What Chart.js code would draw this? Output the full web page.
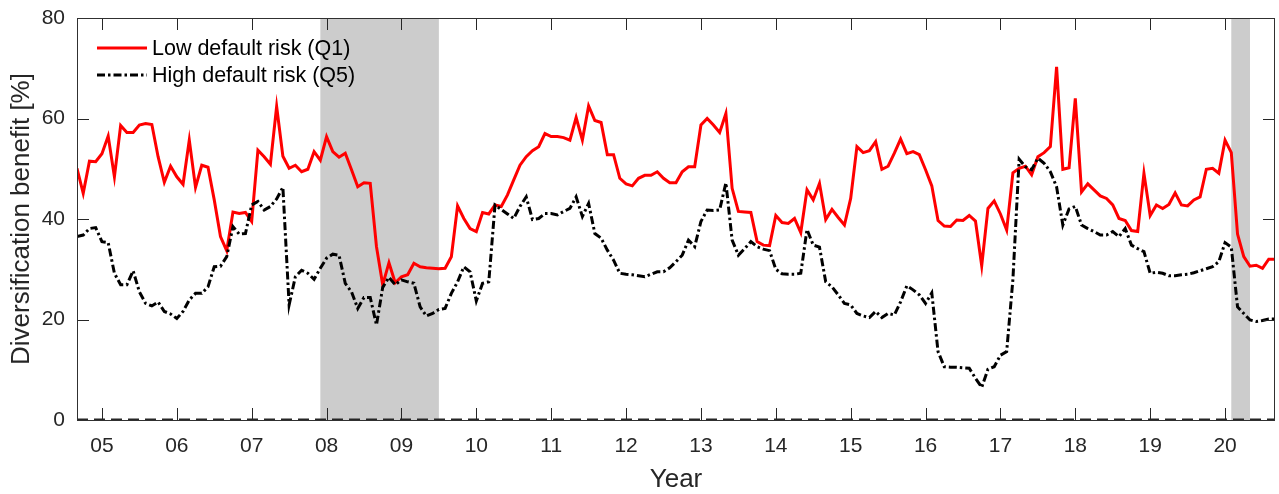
<!DOCTYPE html>
<html>
<head>
<meta charset="utf-8">
<script src="https://cdn.jsdelivr.net/npm/chart.js@4.4.1/dist/chart.umd.min.js"></script>
<style>
  html, body { margin: 0; padding: 0; background: #ffffff; }
  #wrap { width: 1279px; height: 494px; position: relative; }
  canvas { display: block; }
</style>
</head>
<body>
<div id="wrap"><canvas id="c" width="1279" height="494"></canvas></div>
<script>
// ---------------- DATA ----------------
const startYear = 2004;
const startMonth = 9; // September 2004, monthly observations

const lowRiskQ1 = [
  50.1, 45.1, 51.5, 51.4, 53.0, 56.5, 48.4, 58.6, 57.2, 57.2, 58.7, 59.0,
  58.8, 52.4, 47.3, 50.5, 48.4, 46.9, 55.7, 46.3, 50.7, 50.3, 43.8, 36.5,
  33.7, 41.4, 41.1, 41.3, 39.5, 53.7, 52.4, 50.9, 62.4, 52.5, 50.1, 50.7,
  49.4, 49.9, 53.4, 51.7, 56.4, 53.4, 52.3, 53.1, 49.8, 46.4, 47.2, 47.1,
  34.5, 26.9, 31.3, 27.3, 28.5, 28.9, 31.2, 30.5, 30.3, 30.2, 30.1, 30.2,
  32.5, 42.6, 40.1, 38.1, 37.5, 41.3, 41.0, 42.8, 42.5, 44.8, 47.8, 50.7,
  52.4, 53.6, 54.4, 57.0, 56.4, 56.4, 56.2, 55.7, 60.2, 55.7, 62.5, 59.6,
  59.2, 52.8, 52.8, 48.1, 47.0, 46.6, 48.1, 48.7, 48.7, 49.4, 48.1, 47.2,
  47.2, 49.4, 50.4, 50.4, 58.7, 60.0, 58.7, 57.2, 61.0, 46.1, 41.5, 41.4,
  41.3, 35.5, 34.8, 34.7, 40.7, 39.3, 39.1, 40.1, 37.3, 45.8, 43.8, 47.1,
  39.9, 41.9, 40.3, 38.8, 44.1, 54.4, 53.2, 53.6, 55.4, 49.9, 50.5, 53.1,
  55.9, 53.0, 53.4, 52.8, 49.8, 46.6, 39.7, 38.6, 38.5, 39.8, 39.7, 40.7,
  39.6, 30.7, 42.1, 43.6, 41.0, 37.8, 49.2, 50.1, 50.5, 48.8, 52.4, 53.2,
  54.4, 70.3, 49.9, 50.2, 64.0, 45.4, 47.0, 45.8, 44.6, 44.1, 42.8, 40.1,
  39.7, 37.7, 37.5, 49.1, 40.7, 42.8, 42.1, 42.9, 45.2, 42.8, 42.6, 43.8,
  44.4, 49.9, 50.1, 49.1, 55.7, 53.2, 37.0, 32.5, 30.6, 30.8, 30.2, 32.0,
  32.0
];

const highRiskQ5 = [
  36.5, 36.8, 38.1, 38.3, 35.5, 35.3, 29.2, 26.9, 26.9, 29.7, 25.5, 23.2,
  22.7, 23.5, 21.6, 21.1, 20.2, 21.6, 23.9, 25.2, 25.2, 26.5, 30.5, 30.6,
  32.5, 38.5, 37.0, 37.1, 42.8, 43.5, 41.8, 42.5, 44.0, 46.3, 22.9, 28.5,
  29.8, 29.2, 28.0, 30.2, 32.2, 33.0, 32.8, 27.2, 25.5, 22.2, 24.4, 24.4,
  18.9, 26.4, 28.4, 26.9, 27.9, 27.5, 27.2, 22.5, 20.7, 21.2, 22.0, 22.2,
  25.2, 27.5, 30.5, 29.5, 23.7, 27.2, 27.5, 42.8, 41.9, 41.0, 40.1, 42.5,
  44.4, 39.9, 40.1, 41.1, 41.1, 40.8, 41.5, 42.1, 44.4, 40.5, 43.1, 37.1,
  36.2, 33.8, 31.8, 29.2, 29.0, 28.9, 28.7, 28.5, 29.0, 29.5, 29.5, 30.3,
  31.5, 32.8, 35.8, 34.5, 39.5, 41.8, 41.7, 41.8, 47.2, 35.8, 32.8, 34.1,
  35.5, 34.5, 34.0, 33.7, 30.0, 29.1, 29.0, 29.0, 29.2, 37.9, 34.8, 34.4,
  27.5, 26.5, 24.9, 23.2, 22.9, 21.2, 20.7, 20.4, 21.6, 20.4, 21.2, 20.9,
  23.5, 26.7, 25.9, 24.9, 23.2, 25.3, 13.6, 10.6, 10.5, 10.5, 10.4, 10.3,
  8.3, 6.5, 10.1, 10.6, 12.9, 13.6, 28.0, 51.9, 50.4, 49.8, 52.1, 51.1,
  49.4, 46.4, 38.8, 42.0, 42.5, 38.8, 38.1, 37.5, 36.8, 36.8, 37.5, 36.5,
  38.1, 34.8, 34.1, 33.5, 29.2, 29.4, 29.2, 28.7, 28.7, 28.9, 29.0, 29.3,
  29.7, 30.1, 30.5, 31.5, 35.3, 34.4, 22.5, 21.2, 19.9, 19.6, 19.8, 20.1,
  20.1
];

const seriesLabels = ['Low default risk (Q1)', 'High default risk (Q5)'];

const xTickYears  = [2005, 2006, 2007, 2008, 2009, 2010, 2011, 2012, 2013, 2014, 2015, 2016, 2017, 2018, 2019, 2020];
const xTickLabels = ['05', '06', '07', '08', '09', '10', '11', '12', '13', '14', '15', '16', '17', '18', '19', '20'];
const yTicks = [0, 20, 40, 60, 80];

const recessionStart = [2007.917, 2020.083];
const recessionEnd   = [2009.5,   2020.333];

// time position (decimal year) of each monthly observation
const monthTimes = [];
for (let i = 0; i < lowRiskQ1.length; i++) {
  monthTimes.push(startYear + (startMonth - 1 + i) / 12);
}

// ---------------- STYLE ----------------
const FONT = "'Liberation Sans', Arial, Helvetica, sans-serif";
const AXIS_COLOR = '#262626';

const shadingPlugin = {
  id: 'shading',
  beforeDatasetsDraw(chart) {
    const { ctx, chartArea, scales } = chart;
    ctx.save();
    ctx.fillStyle = '#cccccc';
    for (let k = 0; k < recessionStart.length; k++) {
      const x1 = scales.x.getPixelForValue(recessionStart[k]);
      const x2 = scales.x.getPixelForValue(recessionEnd[k]);
      ctx.fillRect(x1, chartArea.top, x2 - x1, chartArea.bottom - chartArea.top);
    }
    ctx.restore();
  }
};

const framePlugin = {
  id: 'frame',
  afterDatasetsDraw(chart) {
    const { ctx, chartArea, scales } = chart;
    const { left, right, top, bottom } = chartArea;
    const tl = 12;
    ctx.save();
    // zero reference line (dashed)
    const y0 = Math.round(scales.y.getPixelForValue(0));
    ctx.strokeStyle = AXIS_COLOR;
    ctx.lineWidth = 2;
    ctx.setLineDash([11, 6]);
    ctx.beginPath();
    ctx.moveTo(left, y0 - 0.5);
    ctx.lineTo(right, y0 - 0.5);
    ctx.stroke();
    ctx.setLineDash([]);
    // ticks inside
    ctx.lineWidth = 1;
    ctx.strokeStyle = AXIS_COLOR;
    ctx.beginPath();
    xTickYears.forEach(v => {
      const x = Math.round(scales.x.getPixelForValue(v)) + 0.5;
      ctx.moveTo(x, bottom); ctx.lineTo(x, bottom - tl);
      ctx.moveTo(x, top); ctx.lineTo(x, top + tl);
    });
    yTicks.forEach(v => {
      const y = Math.round(scales.y.getPixelForValue(v)) + 0.5;
      ctx.moveTo(left, y); ctx.lineTo(left + tl, y);
      ctx.moveTo(right, y); ctx.lineTo(right - tl, y);
    });
    ctx.stroke();
    // box
    ctx.strokeStyle = '#303030';
    ctx.strokeRect(Math.round(left) + 0.5, Math.round(top) + 0.5,
                   Math.round(right - left) - 1, Math.round(bottom - top));
    ctx.restore();
  },
  afterDraw(chart) {
    // legend (inside axes, upper-left, no box)
    const { ctx } = chart;
    const items = chart.data.datasets.slice(0, 2);
    const x1 = 97, x2 = 147, tx = 152;
    const ys = [48, 75];
    ctx.save();
    items.forEach((ds, k) => {
      ctx.strokeStyle = ds.borderColor;
      ctx.lineWidth = ds.borderWidth;
      ctx.setLineDash(ds.borderDash || []);
      ctx.beginPath();
      ctx.moveTo(x1, ys[k]);
      ctx.lineTo(x2, ys[k]);
      ctx.stroke();
      ctx.setLineDash([]);
      ctx.fillStyle = '#000000';
      ctx.font = '21.5px ' + FONT;
      ctx.textAlign = 'left';
      ctx.textBaseline = 'middle';
      ctx.fillText(ds.label, tx, ys[k] + 1);
    });
    ctx.restore();
  }
};

new Chart(document.getElementById('c'), {
  type: 'line',
  data: {
    datasets: [
      {
        label: seriesLabels[0],
        data: monthTimes.map((t, i) => ({ x: t, y: lowRiskQ1[i] })),
        borderColor: '#ff0000',
        borderWidth: 3,
        pointRadius: 0,
        tension: 0,
        fill: false,
        order: 1
      },
      {
        label: seriesLabels[1],
        data: monthTimes.map((t, i) => ({ x: t, y: highRiskQ5[i] })),
        borderColor: '#000000',
        borderWidth: 3,
        borderDash: [8, 3, 2.5, 3],
        pointRadius: 0,
        tension: 0,
        fill: false,
        order: 0
      }
    ]
  },
  options: {
    responsive: false,
    animation: false,
    devicePixelRatio: 1,
    layout: { padding: { top: 18, right: 4, left: 0, bottom: 0 } },
    plugins: {
      legend: { display: false },
      tooltip: { enabled: false }
    },
    scales: {
      x: {
        type: 'linear',
        min: 2004.667,
        max: 2020.667,
        afterBuildTicks(scale) { scale.ticks = xTickYears.map(v => ({ value: v })); },
        afterFit(scale) {
          scale.height = 74;
          scale.paddingLeft = 0; scale.paddingRight = 0;
          scale.paddingTop = 0; scale.paddingBottom = 0;
        },
        grid: { display: false, drawTicks: false },
        border: { display: false },
        ticks: {
          autoSkip: false,
          maxRotation: 0,
          padding: 14,
          color: AXIS_COLOR,
          font: { family: FONT, size: 21 },
          callback(value) {
            const k = xTickYears.indexOf(Math.round(value));
            return k >= 0 ? xTickLabels[k] : '';
          }
        },
        title: {
          display: true,
          text: 'Year',
          color: AXIS_COLOR,
          font: { family: FONT, size: 26, lineHeight: 1 },
          padding: { top: 0, bottom: 1 }
        }
      },
      y: {
        type: 'linear',
        min: 0,
        max: 80,
        afterBuildTicks(scale) { scale.ticks = yTicks.map(v => ({ value: v })); },
        afterFit(scale) {
          scale.width = 77;
          scale.paddingLeft = 0; scale.paddingRight = 0;
          scale.paddingTop = 0; scale.paddingBottom = 0;
        },
        grid: { display: false, drawTicks: false },
        border: { display: false },
        ticks: {
          padding: 12,
          color: AXIS_COLOR,
          font: { family: FONT, size: 21 }
        },
        title: {
          display: true,
          text: 'Diversification benefit [%]',
          color: AXIS_COLOR,
          font: { family: FONT, size: 26, lineHeight: 1 },
          padding: { top: 9, bottom: 0 }
        }
      }
    }
  },
  plugins: [shadingPlugin, framePlugin]
});
</script>
</body>
</html>
